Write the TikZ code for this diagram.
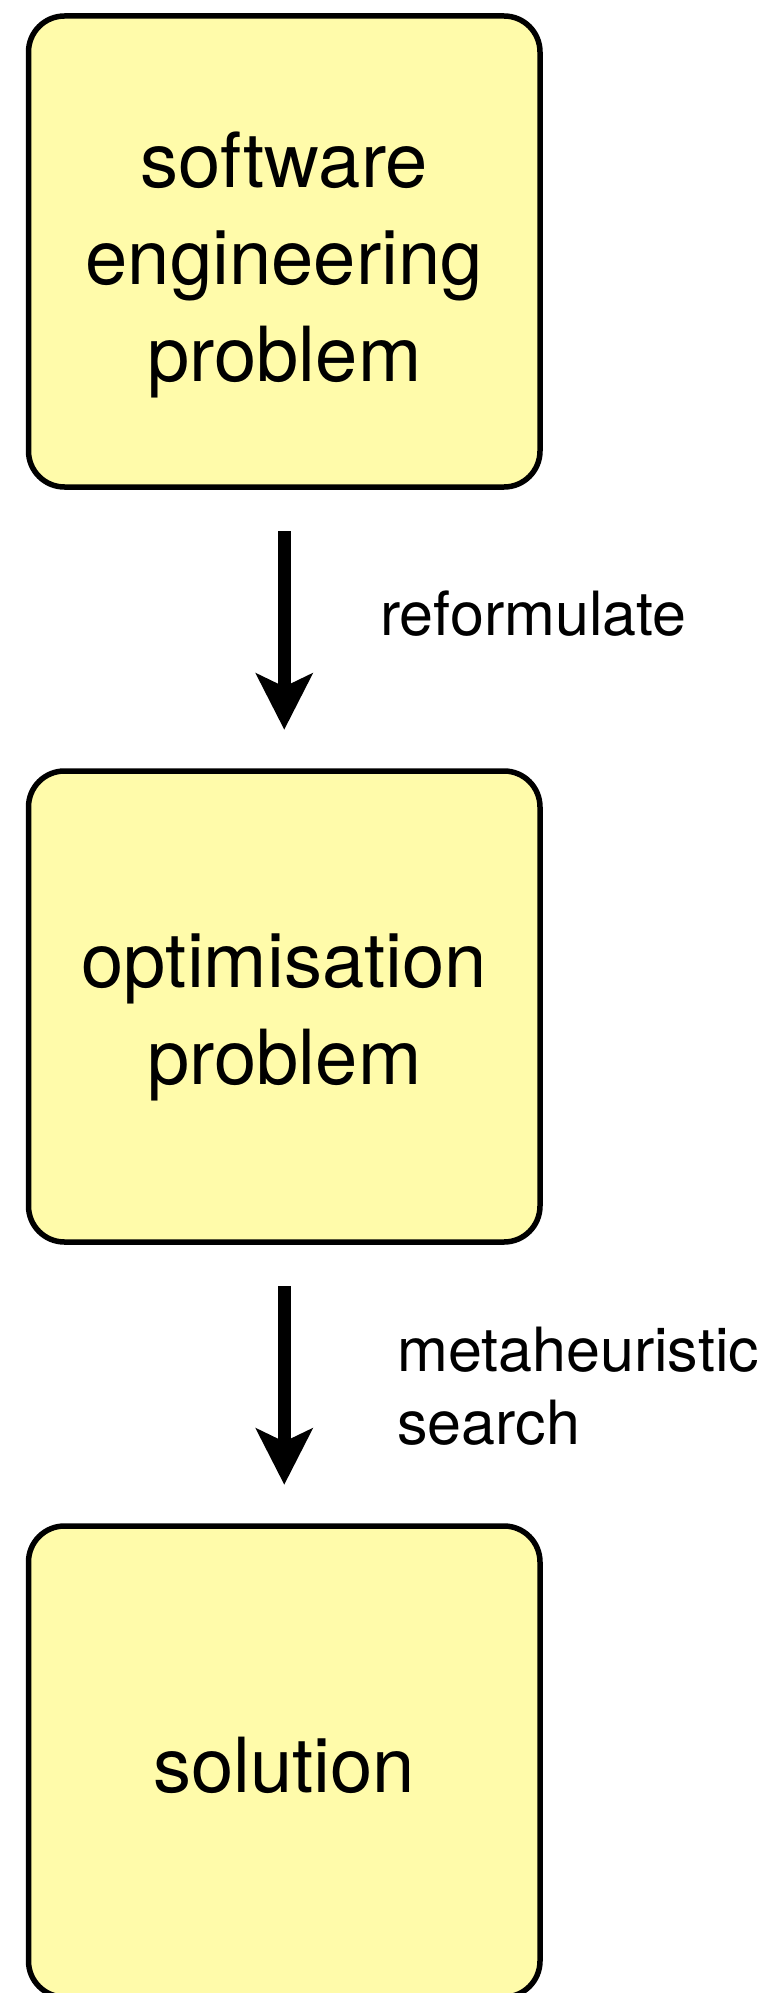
\documentclass[tikz,border=0pt]{standalone}
\usepackage{fontspec}
\setmainfont{TeX Gyre Heros}
\usetikzlibrary{arrows.meta}
\definecolor{boxfill}{RGB}{255,251,170}
\begin{document}
\begin{tikzpicture}[x=1pt,y=-1pt,
  stage/.style={draw=black, line width=5.5pt, fill=boxfill, rounded corners=36pt,
    minimum width=511.5pt, minimum height=471pt, inner sep=0pt},
  stagetext/.style={anchor=base, align=center, inner sep=0pt,
    font=\fontsize{76}{96.6}\selectfont},
  flow/.style={line width=13pt, -{Stealth[length=56pt,width=56pt,inset=13pt]},
    shorten <=41.5pt, shorten >=38.5pt},
  note/.style={anchor=base west, align=left, inner sep=0pt,
    font=\fontsize{61}{73}\selectfont}]
  \useasboundingbox (0,0) rectangle (779,1993);
  \clip (0,0) rectangle (779,1993);

  % three stages, top to bottom
  \node[stage] (se)  at (284.25,251.5)  {};
  \node[stage] (opt) at (284.25,1006.5) {};
  \node[stage] (sol) at (284.25,1761.5) {};

  % stage captions, placed by the baseline of their last line
  \node[stagetext] (setext)  at (284.25,381)  {software\\engineering\\problem};
  \node[stagetext] (opttext) at (284.25,1084) {optimisation\\problem};
  \node[stagetext] (soltext) at (284.25,1792) {solution};

  % connectors between stages
  \draw[flow] (se) -- (opt);
  \draw[flow] (opt) -- (sol);

  \node[note] (reform) at (380,635)  {reformulate};
  \node[note] (meta)   at (397,1444) {metaheuristic\\search};
\end{tikzpicture}
\end{document}
